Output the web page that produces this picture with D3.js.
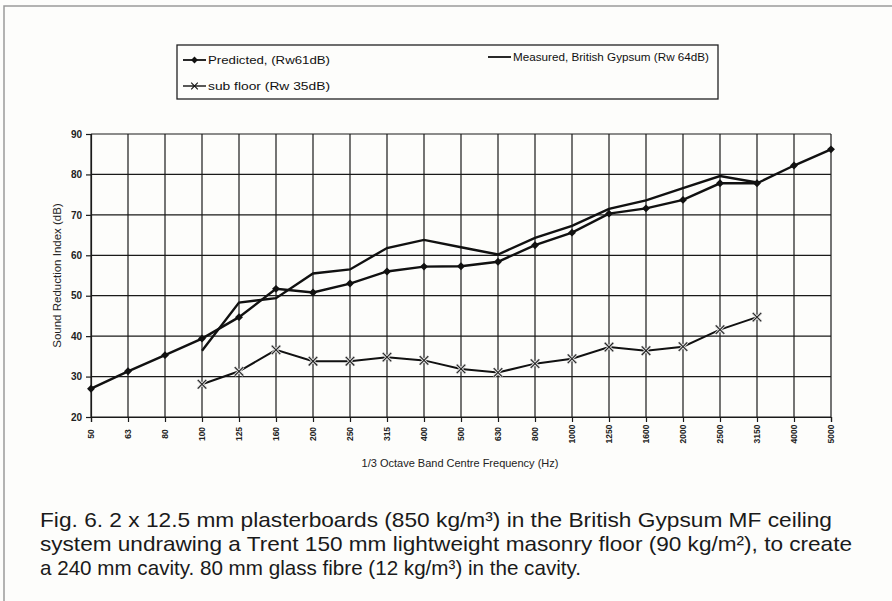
<!DOCTYPE html>
<html>
<head>
<meta charset="utf-8">
<script src="https://cdn.jsdelivr.net/npm/d3@7"></script>
<style>
  body { margin: 0; background: #fff; }
  svg { display: block; }
</style>
</head>
<body>
<div id="chart"></div>
<script>
/* Chart values */
const bands = ["50", "63", "80", "100", "125", "160", "200", "250", "315", "400", "500",
  "630", "800", "1000", "1250", "1600", "2000", "2500", "3150", "4000", "5000"];

const predicted = [27, 31.3, 35.3, 39.4, 44.7, 51.7, 50.8, 53, 56, 57.2, 57.3,
  58.4, 62.5, 65.6, 70.3, 71.6, 73.7, 77.8, 77.8, 82.2, 86.2];

const measuredBands = ["100", "125", "160", "200", "250", "315", "400", "500",
  "630", "800", "1000", "1250", "1600", "2000", "2500", "3150"];
const measured = [36.4, 48.3, 49.4, 55.5, 56.5, 61.8, 63.8, 62, 60.2, 64.3, 67.3,
  71.5, 73.6, 76.6, 79.6, 78];

const subBands = ["100", "125", "160", "200", "250", "315", "400", "500",
  "630", "800", "1000", "1250", "1600", "2000", "2500", "3150"];
const subFloor = [28.1, 31.3, 36.6, 33.8, 33.8, 34.8, 34, 31.9, 31, 33.2, 34.4,
  37.3, 36.4, 37.4, 41.6, 44.7];

const yTicks = [20, 30, 40, 50, 60, 70, 80, 90];

const legendItems = [
  { label: "Predicted, (Rw61dB)", marker: "diamond" },
  { label: "Measured, British Gypsum (Rw 64dB)", marker: "none" },
  { label: "sub floor (Rw 35dB)", marker: "cross" }
];

const captionLines = [
  "Fig. 6. 2 x 12.5 mm plasterboards (850 kg/m³) in the British Gypsum MF ceiling",
  "system undrawing a Trent 150 mm lightweight masonry floor (90 kg/m²), to create",
  "a 240 mm cavity. 80 mm glass fibre (12 kg/m³) in the cavity."
];

const width = 892;
const height = 601;

const plot = { left: 91, right: 831, top: 134, bottom: 417 };

const svg = d3.select("#chart")
  .append("svg")
  .attr("width", width)
  .attr("height", height)
  .style("font-family", "'Liberation Sans', Arial, sans-serif");

svg.append("rect")
  .attr("width", width)
  .attr("height", height)
  .attr("fill", "#fdfdfb");

// page frame (top and left edges only, as scanned)
svg.append("path")
  .attr("d", `M4,${height} L4,6 L${width},6`)
  .attr("fill", "none")
  .attr("stroke", "#9a9a9a")
  .attr("stroke-width", 1.5);

const x = d3.scalePoint()
  .domain(bands)
  .range([plot.left, plot.right]);

const y = d3.scaleLinear()
  .domain([20, 90])
  .range([plot.bottom, plot.top]);

// grid
const grid = svg.append("g").attr("stroke", "#1a1a1a").attr("stroke-width", 1.2);

grid.selectAll(".vgrid")
  .data(bands)
  .join("line")
    .attr("x1", d => x(d))
    .attr("x2", d => x(d))
    .attr("y1", plot.top)
    .attr("y2", plot.bottom);

grid.selectAll(".hgrid")
  .data(yTicks)
  .join("line")
    .attr("x1", plot.left)
    .attr("x2", plot.right)
    .attr("y1", d => y(d))
    .attr("y2", d => y(d));

// axes
const yAxis = svg.append("g")
  .attr("transform", `translate(${plot.left},0)`)
  .call(d3.axisLeft(y).tickValues(yTicks).tickSize(5).tickPadding(4));

yAxis.select(".domain").attr("stroke", "#1a1a1a").attr("stroke-width", 1.2);
yAxis.selectAll(".tick line").attr("stroke", "#1a1a1a").attr("stroke-width", 1.2);
yAxis.selectAll("text")
  .attr("font-size", 10)
  .attr("font-weight", "bold")
  .attr("fill", "#222")
  .style("font-family", "'Liberation Sans', Arial, sans-serif");

const xAxis = svg.append("g")
  .attr("transform", `translate(0,${plot.bottom})`)
  .call(d3.axisBottom(x).tickSize(5).tickFormat(() => ""));

xAxis.select(".domain").attr("stroke", "#1a1a1a").attr("stroke-width", 1.2);
xAxis.selectAll(".tick line").attr("stroke", "#1a1a1a").attr("stroke-width", 1.2);

svg.append("g")
  .selectAll("text")
  .data(bands)
  .join("text")
    .attr("transform", d => `translate(${x(d) + 3},434) rotate(-90)`)
    .attr("text-anchor", "middle")
    .attr("font-size", 8.5)
    .attr("font-weight", "bold")
    .attr("fill", "#222")
    .text(d => d);

svg.append("text")
  .attr("x", 460)
  .attr("y", 467)
  .attr("text-anchor", "middle")
  .attr("font-size", 11)
  .attr("fill", "#222")
  .text("1/3 Octave Band Centre Frequency (Hz)");

svg.append("text")
  .attr("transform", `translate(61,${(plot.top + plot.bottom) / 2}) rotate(-90)`)
  .attr("text-anchor", "middle")
  .attr("font-size", 11.5)
  .attr("fill", "#222")
  .text("Sound Reduction Index (dB)");

// series
const line = d3.line()
  .x(d => x(d.band))
  .y(d => y(d.value));

const predData = bands.map((b, i) => ({ band: b, value: predicted[i] }));
const measData = measuredBands.map((b, i) => ({ band: b, value: measured[i] }));
const subData = subBands.map((b, i) => ({ band: b, value: subFloor[i] }));

svg.append("path")
  .datum(subData)
  .attr("fill", "none")
  .attr("stroke", "#111")
  .attr("stroke-width", 2)
  .attr("d", line);

svg.append("path")
  .datum(measData)
  .attr("fill", "none")
  .attr("stroke", "#111")
  .attr("stroke-width", 2.4)
  .attr("d", line);

svg.append("path")
  .datum(predData)
  .attr("fill", "none")
  .attr("stroke", "#111")
  .attr("stroke-width", 2.4)
  .attr("d", line);

const diamond = d3.symbol().type(d3.symbolDiamond2).size(40);
const cross = d3.symbol().type(d3.symbolTimes).size(50);

svg.append("g")
  .selectAll("path")
  .data(predData)
  .join("path")
    .attr("transform", d => `translate(${x(d.band)},${y(d.value)})`)
    .attr("d", diamond)
    .attr("fill", "#111");

svg.append("g")
  .selectAll("path")
  .data(subData)
  .join("path")
    .attr("transform", d => `translate(${x(d.band)},${y(d.value)})`)
    .attr("d", cross)
    .attr("fill", "none")
    .attr("stroke", "#ddd")
    .attr("stroke-width", 3);

svg.append("g")
  .selectAll("path")
  .data(subData)
  .join("path")
    .attr("transform", d => `translate(${x(d.band)},${y(d.value)})`)
    .attr("d", cross)
    .attr("fill", "none")
    .attr("stroke", "#222")
    .attr("stroke-width", 1.1);

// legend
const legend = svg.append("g");

legend.append("rect")
  .attr("x", 177)
  .attr("y", 45)
  .attr("width", 541)
  .attr("height", 54)
  .attr("fill", "none")
  .attr("stroke", "#222")
  .attr("stroke-width", 1.3);

const legendPos = [
  { x: 183, y: 60 },
  { x: 488, y: 57 },
  { x: 183, y: 86 }
];

legendItems.forEach((item, i) => {
  const p = legendPos[i];
  const g = legend.append("g").attr("transform", `translate(${p.x},${p.y})`);
  g.append("line")
    .attr("x1", 0)
    .attr("x2", 23)
    .attr("stroke", "#111")
    .attr("stroke-width", item.marker === "cross" ? 1.4 : 1.8);
  if (item.marker === "diamond") {
    g.append("path")
      .attr("transform", "translate(11.5,0)")
      .attr("d", d3.symbol().type(d3.symbolDiamond2).size(30))
      .attr("fill", "#111");
  } else if (item.marker === "cross") {
    g.append("path")
      .attr("transform", "translate(11.5,0)")
      .attr("d", d3.symbol().type(d3.symbolTimes).size(30))
      .attr("fill", "none")
      .attr("stroke", "#111")
      .attr("stroke-width", 1.1);
  }
  g.append("text")
    .attr("x", 25)
    .attr("y", 4)
    .attr("font-size", 11)
    .attr("fill", "#111")
    .attr("textLength", i === 1 ? 196 : 122)
    .attr("lengthAdjust", "spacingAndGlyphs")
    .text(item.label);
});

// caption
const caption = svg.append("g")
  .style("font-family", "'Liberation Sans', Arial, sans-serif")
  .attr("fill", "#1a1a1a");

const captionWidths = [792, 812, 541];
const captionY = [527, 551, 575];

caption.selectAll("text")
  .data(captionLines)
  .join("text")
    .attr("x", 40)
    .attr("y", (d, i) => captionY[i])
    .attr("font-size", 21)
    .attr("textLength", (d, i) => captionWidths[i])
    .attr("lengthAdjust", "spacingAndGlyphs")
    .text(d => d);
</script>
</body>
</html>
